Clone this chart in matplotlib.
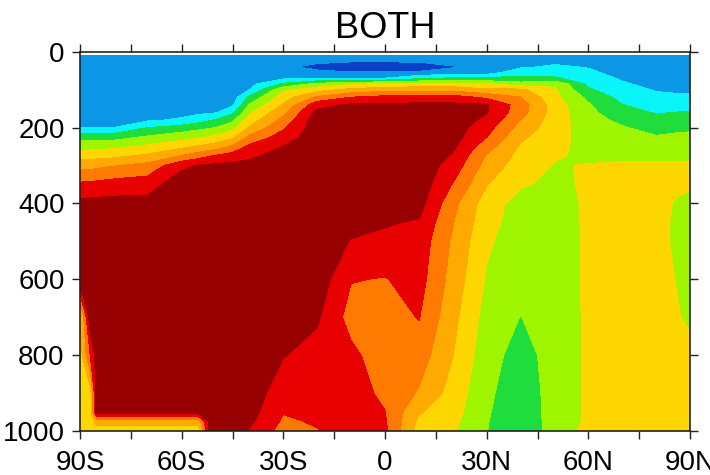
import numpy as np
import matplotlib
matplotlib.use('Agg')
import matplotlib.pyplot as plt

plt.rcParams['font.family'] = ['Liberation Sans', 'DejaVu Sans']

# latitude columns (deg, S negative) and pressure levels (hPa)
lats = [-90, -87, -85, -80, -70, -60, -55, -50, -45, -40, -30, -20, -10,
        0, 10, 20, 30, 40, 50, 60, 70, 80, 86, 90]
plev = [10, 25, 40, 55, 70, 85, 100, 120, 140, 160, 180, 200, 225, 250,
        275, 300, 350, 400, 450, 500, 600, 700, 800, 900, 950, 975, 1000]

# field values, one profile per latitude (top to bottom)
c90s = [1.5, 1.5, 1.5, 1.5, 1.5, 1.5, 1.5, 1.5, 1.5, 1.5, 1.67, 2.0, 3.58, 4.63,
        5.59, 6.61, 8.2, 9.31, 9.6, 9.6, 9.6, 5.5, 5.5, 5.5, 5.5, 5.5, 5.5]
c87s = [1.5, 1.5, 1.5, 1.5, 1.5, 1.5, 1.5, 1.5, 1.5, 1.5, 1.67, 2.0, 3.58, 4.65,
        5.63, 6.68, 8.23, 9.32, 9.6, 9.6, 9.6, 9.6, 8.0, 5.5, 5.5, 5.5, 5.5]
c85s = [1.5, 1.5, 1.5, 1.5, 1.5, 1.5, 1.5, 1.5, 1.5, 1.5, 1.67, 2.0, 3.59, 4.7,
        5.67, 6.76, 8.29, 9.33, 9.6, 9.6, 9.6, 9.6, 9.6, 9.6, 9.6, 6.4, 5.5]
c80s = [1.5, 1.5, 1.5, 1.5, 1.5, 1.5, 1.5, 1.5, 1.5, 1.5, 1.67, 2.0, 3.62, 4.77,
        5.77, 6.95, 8.43, 9.36, 9.6, 9.6, 9.6, 9.6, 9.6, 9.6, 9.6, 6.4, 5.5]
c70s = [1.5, 1.5, 1.5, 1.5, 1.5, 1.5, 1.5, 1.5, 1.5, 1.53, 1.87, 3.0, 4.13, 5.17,
        6.23, 7.31, 8.56, 9.33, 9.6, 9.6, 9.6, 9.6, 9.6, 9.6, 9.6, 6.4, 5.5]
c60s = [1.5, 1.5, 1.5, 1.5, 1.5, 1.5, 1.5, 1.5, 1.5, 1.7, 2.14, 3.4, 4.62, 5.77,
        7.06, 8.77, 9.6, 9.6, 9.6, 9.6, 9.6, 9.6, 9.6, 9.6, 9.6, 6.4, 5.5]
c55s = [1.5, 1.5, 1.5, 1.5, 1.5, 1.5, 1.5, 1.5, 1.5, 1.8, 2.57, 3.7, 4.9, 6.11,
        7.6, 9.07, 9.6, 9.6, 9.6, 9.6, 9.6, 9.6, 9.6, 9.6, 9.6, 6.4, 5.5]
c50s = [1.5, 1.5, 1.5, 1.5, 1.5, 1.5, 1.5, 1.5, 1.58, 1.92, 3.05, 4.0, 5.19, 6.47,
        8.12, 9.2, 9.6, 9.6, 9.6, 9.6, 9.6, 9.6, 9.6, 9.6, 9.8, 11.0, 11.5]
c45s = [1.5, 1.5, 1.5, 1.5, 1.5, 1.5, 1.5, 1.5, 1.83, 2.77, 3.77, 4.65, 5.77, 7.14,
        8.52, 9.24, 9.6, 9.6, 9.6, 9.6, 9.6, 9.6, 9.6, 9.6, 9.6, 9.6, 9.6]
c40s = [1.5, 1.5, 1.5, 1.5, 1.5, 1.7, 2.0, 3.22, 4.07, 4.81, 5.45, 6.09, 7.25, 8.24,
        8.83, 9.28, 9.6, 9.6, 9.6, 9.6, 9.6, 9.6, 9.6, 9.6, 9.4, 9.2, 8.9]
c30s = [1.5, 1.5, 1.5, 1.5, 1.83, 3.17, 4.77, 5.5, 6.1, 6.74, 7.32, 7.86, 8.44, 9.02,
        9.38, 9.6, 9.6, 9.6, 9.6, 9.6, 9.6, 9.6, 9.05, 8.4, 8.05, 7.85, 7.6]
c20s = [1.5, 1.5, 0.3, 1.6, 1.92, 4.29, 5.59, 7.17, 8.67, 9.26, 9.6, 9.6, 9.6, 9.6,
        9.6, 9.6, 9.6, 9.6, 9.6, 9.6, 9.6, 9.15, 8.6, 8.4, 8.25, 8.1, 7.95]
c10s = [1.5, 1.1, 0.2, 1.1, 1.96, 4.83, 6.27, 8.02, 9.13, 9.44, 9.6, 9.6, 9.6, 9.6,
        9.6, 9.6, 9.6, 9.6, 9.3, 8.95, 8.05, 7.6, 8.25, 8.4, 8.5, 8.6, 8.6]
c0 = [1.5, 1.1, 0.2, 1.1, 2.02, 5.18, 6.6, 8.33, 9.18, 9.4, 9.6, 9.6, 9.6, 9.6,
      9.6, 9.6, 9.6, 9.6, 9.1, 8.75, 7.95, 7.5, 7.4, 7.8, 8.02, 8.1, 8.2]
c10n = [1.5, 1.15, 0.3, 1.2, 2.8, 5.3, 6.67, 8.42, 9.2, 9.4, 9.6, 9.6, 9.6, 9.6,
        9.6, 9.6, 9.6, 9.4, 8.9, 8.6, 8.4, 8.05, 7.5, 6.9, 6.1, 5.8, 5.6]
c20n = [1.5, 1.5, 0.9, 1.5, 3.17, 5.36, 6.67, 8.42, 9.2, 9.4, 9.5, 9.5, 9.4, 9.2,
        8.9, 8.6, 7.95, 7.3, 7.05, 6.85, 6.6, 6.3, 6.02, 5.6, 5.4, 5.25, 5.1]
c30n = [1.5, 1.5, 1.5, 1.5, 3.14, 5.13, 6.14, 7.8, 9.1, 9.05, 8.8, 8.4, 8.02, 7.4,
        6.9, 6.6, 6.05, 5.5, 5.35, 5.15, 4.9, 4.6, 4.4, 4.2, 4.1, 4.05, 4.02]
c40n = [1.5, 1.5, 1.83, 2.7, 3.2, 4.41, 6.2, 7.02, 7.5, 7.4, 6.98, 6.64, 6.18, 5.88,
        5.69, 5.5, 5.12, 4.6, 4.5, 4.45, 4.3, 3.98, 3.6, 3.4, 3.35, 3.3, 3.3]
c50n = [1.5, 1.76, 2.17, 2.6, 3.14, 4.82, 5.12, 5.3, 5.5, 5.55, 5.5, 5.45, 5.35, 5.25,
        5.08, 4.95, 4.75, 4.6, 4.55, 4.5, 4.5, 4.45, 4.4, 4.4, 4.4, 4.4, 4.4]
c60n = [1.5, 1.61, 1.93, 2.23, 2.51, 2.79, 3.13, 3.77, 4.1, 4.25, 4.4, 4.5, 4.6, 4.7,
        4.85, 5.04, 5.15, 5.15, 5.15, 5.15, 5.15, 5.15, 5.15, 5.15, 5.15, 5.15, 5.3]
c70n = [1.5, 1.5, 1.5, 1.59, 1.87, 2.13, 2.37, 2.68, 3.02, 3.38, 3.75, 4.08, 4.34, 4.6,
        4.85, 5.12, 5.25, 5.25, 5.25, 5.25, 5.25, 5.25, 5.25, 5.25, 5.25, 5.25, 5.3]
c80n = [1.5, 1.5, 1.5, 1.5, 1.5, 1.67, 1.92, 2.25, 2.58, 2.92, 3.27, 3.64, 4.08, 4.45,
        4.83, 5.12, 5.2, 5.2, 5.2, 5.2, 5.2, 5.2, 5.2, 5.2, 5.2, 5.2, 5.2]
c86n = [1.5, 1.5, 1.5, 1.5, 1.5, 1.57, 1.82, 2.19, 2.6, 3.02, 3.4, 3.77, 4.18, 4.51,
        4.85, 5.12, 5.1, 4.95, 4.9, 4.9, 4.98, 5.05, 5.15, 5.2, 5.2, 5.2, 5.2]
c90n = [1.5, 1.5, 1.5, 1.5, 1.5, 1.53, 1.78, 2.16, 2.61, 3.06, 3.44, 3.83, 4.21, 4.53,
        4.86, 5.12, 5.1, 4.8, 4.6, 4.6, 4.7, 4.9, 5.15, 5.2, 5.2, 5.2, 5.2]

band_levels = [0, 1, 2, 3, 4, 5, 6, 7, 8, 9, 12]
band_colors = ['#0B3FC8', '#0C96E6', '#0AF5FA', '#1FDD3D', '#9FF500',
               '#FFD700', '#FFAA00', '#FF7A00', '#E80000', '#960000']

xtick_pos = list(range(-90, 91, 15))
xtick_lab = ['90S', '', '60S', '', '30S', '', '0', '', '30N', '', '60N', '', '90N']
ytick_pos = [0, 200, 400, 600, 800, 1000]

field = np.array([c90s, c87s, c85s, c80s, c70s, c60s, c55s, c50s, c45s, c40s,
                  c30s, c20s, c10s, c0, c10n, c20n, c30n, c40n, c50n, c60n,
                  c70n, c80n, c86n, c90n]).T

fig = plt.figure(figsize=(7.1, 4.75), dpi=100)
ax = fig.add_axes([0.1127, 0.0926, 0.8592, 0.7985])
ax.contourf(lats, plev, field, levels=band_levels, colors=band_colors)

ax.set_xlim(-90, 90)
ax.set_ylim(1000, 0)
ax.set_xticks(xtick_pos)
ax.set_xticklabels(xtick_lab)
ax.set_yticks(ytick_pos)
ax.tick_params(axis='both', which='major', direction='out', length=6, width=1,
               top=True, right=True, labelsize=20, color='#222222')
ax.tick_params(axis='x', pad=8)
ax.tick_params(axis='y', pad=5)
for s in ax.spines.values():
    s.set_linewidth(1.2)
    s.set_color('#222222')

ax.set_title('BOTH', fontsize=26, pad=10)

fig.savefig('out.png', dpi=100)
